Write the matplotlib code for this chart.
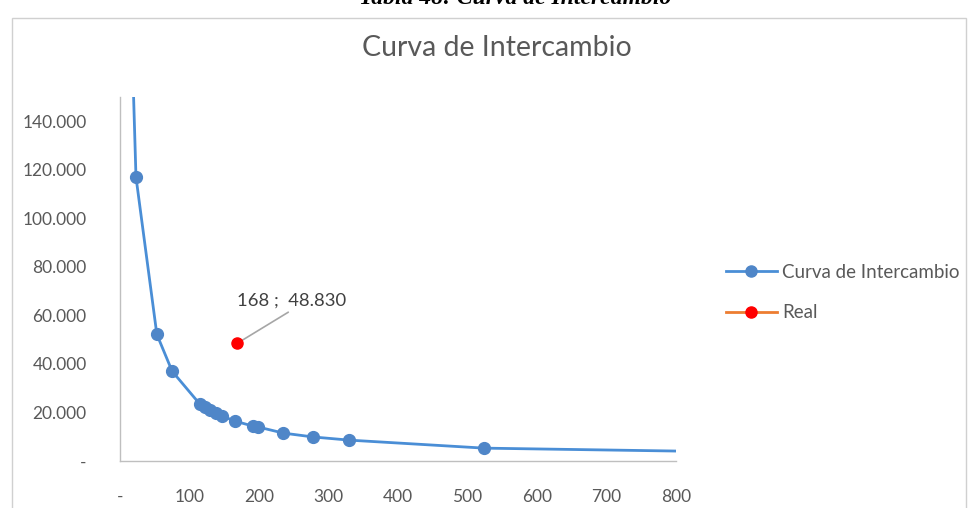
import matplotlib
matplotlib.use("Agg")
import matplotlib.pyplot as plt
from matplotlib.patches import Rectangle
from matplotlib.lines import Line2D
from matplotlib.ticker import FuncFormatter, MultipleLocator

# ---- data ----
curve_x = [18, 23, 53, 75, 115, 122, 130, 138, 147, 166, 191, 199, 235, 278, 330, 524, 800]
curve_y = [165000, 117000, 52200, 37000, 23400, 22200, 21000, 19700, 18500, 16400,
           14400, 14000, 11500, 9900, 8600, 5300, 4100]
marker_idx = list(range(1, 16))
real_x = [168]
real_y = [48830]
title = "Curva de Intercambio"
caption = "Tabla 48: Curva de Intercambio"
series_names = ["Curva de Intercambio", "Real"]

FONT = ["Lato", "DejaVu Sans"]
plt.rcParams['font.family'] = FONT

W, H = 970, 508
fig = plt.figure(figsize=(W / 100, H / 100), dpi=100)
fig.patch.set_facecolor("white")

# outer chart border
fig.patches.append(Rectangle((12 / W, -0.05), (966 - 12) / W, 1.05 - 18 / H,
                             transform=fig.transFigure, fill=False,
                             edgecolor="#d0d0d0", linewidth=1.0))
# caption cut at top (as in the reference)
fig.text(515 / W, 1 + 2 / H, caption, ha="center", va="center",
         fontsize=17, fontweight="bold", fontstyle="italic",
         family=["Liberation Serif", "DejaVu Serif"], color="#000000")

ax = fig.add_axes([120 / W, 1 - 461 / H, (676 - 120) / W, (461 - 97) / H])
ax.set_xlim(0, 800)
ax.set_ylim(0, 150000)

line_c = "#4a8ed6"
mark_c = "#4f86c8"
ax.plot(curve_x, curve_y, color=line_c, lw=2.0, marker="o", markevery=marker_idx,
        markersize=8.5, markerfacecolor=mark_c, markeredgecolor=mark_c,
        solid_capstyle="butt", zorder=3)
ax.plot(real_x, real_y, color="#ED7D31", lw=2.0, marker="o", markersize=8,
        markerfacecolor="#FF0000", markeredgecolor="#FF0000", linestyle="none", zorder=4)

# data label with leader line
ax.annotate(f"{real_x[0]} ;  {real_y[0]:,}".replace(",", "."),
            xy=(real_x[0] + 6, real_y[0] + 600), xycoords="data",
            xytext=(237 / W, 1 - 301 / H), textcoords="figure fraction",
            ha="left", va="center", fontsize=13.3, color="#404040",
            arrowprops=dict(arrowstyle="-", color="#a6a6a6", lw=1.2,
                            shrinkA=0, shrinkB=0, relpos=(0.47, -0.2)))

for s in ["top", "right"]:
    ax.spines[s].set_visible(False)
for s in ["left", "bottom"]:
    ax.spines[s].set_color("#bfbfbf")
    ax.spines[s].set_linewidth(1.0)

ax.xaxis.set_major_locator(MultipleLocator(100))
ax.yaxis.set_major_locator(MultipleLocator(20000))


def fmt(v, pos):
    if abs(v) < 1e-9:
        return "-"
    return f"{int(round(v)):,}".replace(",", ".")


ax.xaxis.set_major_formatter(FuncFormatter(fmt))
ax.yaxis.set_major_formatter(FuncFormatter(fmt))
ax.tick_params(axis="both", length=0, labelsize=12.5, labelcolor="#595959")
ax.tick_params(axis="x", pad=20)
ax.tick_params(axis="y", pad=24)

fig.text(497 / W, 1 - 48 / H, title, ha="center", va="center", fontsize=20.5, color="#595959")

handles = [Line2D([], [], color=line_c, lw=2.0, marker="o", markersize=8,
                  markerfacecolor=mark_c, markeredgecolor=mark_c),
           Line2D([], [], color="#ED7D31", lw=2.0, marker="o", markersize=8,
                  markerfacecolor="#FF0000", markeredgecolor="#FF0000")]
fig.legend(handles, series_names, loc="upper left",
           bbox_to_anchor=(726 / W, 1 - 264 / H), frameon=False,
           fontsize=13.5, labelcolor="#595959", handlelength=2.7,
           handletextpad=0.3, labelspacing=1.25, borderpad=0, borderaxespad=0)

fig.savefig("out.png", dpi=100, facecolor="white")
